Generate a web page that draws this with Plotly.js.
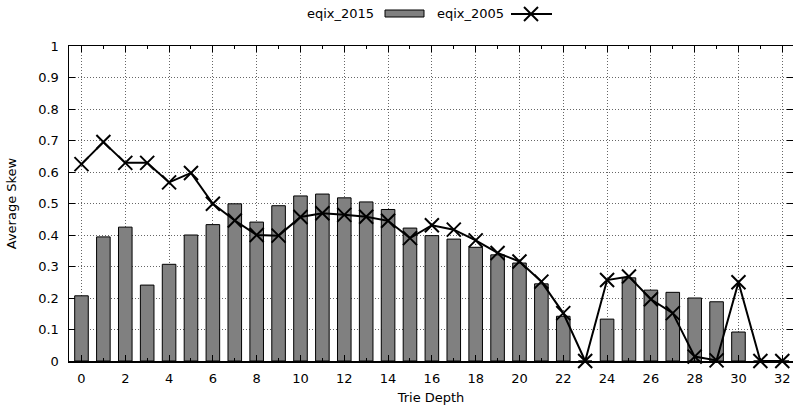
<!DOCTYPE html>
<html>
<head>
<meta charset="utf-8">
<script src="https://cdn.plot.ly/plotly-3.0.1.min.js"></script>
<style>html,body{margin:0;padding:0;background:#fff;}#chart{width:793px;height:405px;}</style>
</head>
<body>
<div id="chart"></div>
<script>
const depths = [0,1,2,3,4,5,6,7,8,9,10,11,12,13,14,15,16,17,18,19,20,21,22,23,24,25,26,27,28,29,30,31,32];
const eqix2015 = [0.207,0.394,0.425,0.241,0.307,0.400,0.433,0.499,0.441,0.493,0.524,0.530,0.518,0.505,0.481,0.422,0.398,0.387,0.361,0.337,0.311,0.245,0.142,0,0.133,0.264,0.225,0.218,0.200,0.188,0.092,0,0];
const eqix2005 = [0.625,0.695,0.629,0.629,0.567,0.597,0.499,0.446,0.400,0.398,0.457,0.469,0.464,0.458,0.445,0.390,0.431,0.417,0.383,0.343,0.316,0.252,0.152,0,0.257,0.268,0.196,0.152,0.014,0.002,0.250,0,0];
const yTicks = [0,0.1,0.2,0.3,0.4,0.5,0.6,0.7,0.8,0.9,1];
const yTickText = ['0','0.1','0.2','0.3','0.4','0.5','0.6','0.7','0.8','0.9','1'];
const xTicks = [0,2,4,6,8,10,12,14,16,18,20,22,24,26,28,30,32];
const seriesNames = ['eqix_2015','eqix_2005'];

const FONT = 'DejaVu Sans, sans-serif';
const FS = 13;

const traces = [
  {
    type: 'bar', x: depths, y: eqix2015, name: seriesNames[0], width: 0.62,
    marker: {color: '#808080', line: {color: '#000', width: 1}},
    showlegend: false, cliponaxis: false
  },
  {
    type: 'scatter', mode: 'lines+markers', x: depths, y: eqix2005, name: seriesNames[1],
    line: {color: '#000', width: 2},
    marker: {symbol: 'x-thin-open', size: 14, color: '#000', line: {color: '#000', width: 2}},
    showlegend: false, cliponaxis: false
  },
  {
    type: 'scatter', mode: 'none', x: [0], y: [0], yaxis: 'y2', showlegend: false, hoverinfo: 'skip'
  }
];

const px = v => (v - 69) / 724;
const py = v => (361 - v) / 315;

const layout = {
  width: 793, height: 405,
  margin: {l: 69, r: 0, t: 46, b: 44, pad: 0},
  paper_bgcolor: '#fff', plot_bgcolor: '#fff',
  font: {family: FONT, size: FS, color: '#000'},
  showlegend: false,
  xaxis: {
    range: [-0.57, 32.49], tickvals: xTicks, ticktext: xTicks.map(String),
    ticks: 'inside', ticklen: 6, tickcolor: '#000', tickwidth: 1,
    minor: {dtick: 1, tick0: 0, ticks: 'inside', ticklen: 3, tickcolor: '#000', showgrid: false},
    showline: true, linecolor: '#000', linewidth: 1.5, mirror: 'ticks',
    showgrid: true, gridcolor: '#666', griddash: '1px,2px', gridwidth: 1,
    zeroline: false, tickfont: {family: FONT, size: FS, color: '#000'},
    ticklabelstandoff: 5,
    title: {text: 'Trie Depth', font: {family: FONT, size: FS, color: '#000'}, standoff: 10}
  },
  yaxis: {
    range: [0, 1], tickvals: yTicks, ticktext: yTickText,
    ticks: 'inside', ticklen: 6, tickcolor: '#000',
    showline: true, linecolor: '#000', linewidth: 1.5, mirror: false,
    showgrid: true, gridcolor: '#666', griddash: '1px,2px', gridwidth: 1,
    zeroline: false, tickfont: {family: FONT, size: FS, color: '#000'},
    ticklabelstandoff: 6,
    title: {text: 'Average Skew', font: {family: FONT, size: FS, color: '#000'}, standoff: 18}
  },
  yaxis2: {
    overlaying: 'y', side: 'right', range: [0, 1], tickvals: yTicks,
    ticks: 'inside', ticklen: 6, tickcolor: '#000', showticklabels: false,
    showline: false, showgrid: false, zeroline: false
  },
  annotations: [
    {xref: 'paper', yref: 'paper', x: px(376), y: py(14), xanchor: 'right', yanchor: 'middle',
     text: seriesNames[0], showarrow: false, font: {family: FONT, size: FS, color: '#000'}},
    {xref: 'paper', yref: 'paper', x: px(506), y: py(14), xanchor: 'right', yanchor: 'middle',
     text: seriesNames[1], showarrow: false, font: {family: FONT, size: FS, color: '#000'}}
  ],
  shapes: [
    {type: 'rect', xref: 'paper', yref: 'paper', x0: px(385), x1: px(424), y0: py(17), y1: py(10),
     fillcolor: '#808080', line: {color: '#000', width: 1}},
    {type: 'line', xref: 'paper', yref: 'paper', x0: px(511), x1: px(552), y0: py(14), y1: py(14),
     line: {color: '#000', width: 2}},
    {type: 'line', xref: 'paper', yref: 'paper', x0: px(524), x1: px(538), y0: py(7), y1: py(21),
     line: {color: '#000', width: 2}},
    {type: 'line', xref: 'paper', yref: 'paper', x0: px(524), x1: px(538), y0: py(21), y1: py(7),
     line: {color: '#000', width: 2}}
  ]
};

Plotly.newPlot('chart', traces, layout, {displayModeBar: false, staticPlot: true});
</script>
</body>
</html>
